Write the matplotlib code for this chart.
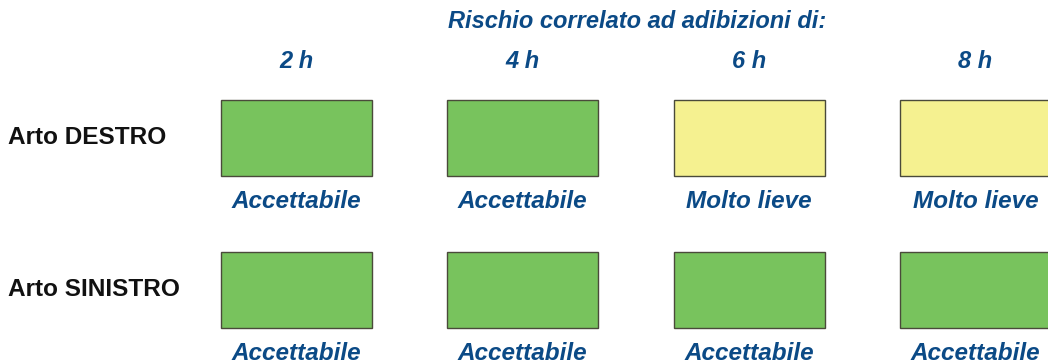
import matplotlib
matplotlib.use('Agg')
import matplotlib.pyplot as plt
from matplotlib.patches import Rectangle

# Dati
hours = ['2 h', '4 h', '6 h', '8 h']
rows = ['Arto DESTRO', 'Arto SINISTRO']
risk = [
    ['Accettabile', 'Accettabile', 'Molto lieve', 'Molto lieve'],
    ['Accettabile', 'Accettabile', 'Accettabile', 'Accettabile'],
]
title = 'Rischio correlato ad adibizioni di:'

colors = {'Accettabile': '#78c35d', 'Molto lieve': '#f5f190'}
blue = '#0b4a86'

fig = plt.figure(figsize=(10.48, 3.63), dpi=100)
ax = fig.add_axes([0, 0, 1, 1])
ax.set_xlim(0, 1048)
ax.set_ylim(363, 0)
ax.axis('off')

col_x0, col_step, box_w = 221, 226.3, 151
row_y0, row_step, box_h = 100, 152, 76

font = 'Liberation Sans'

ax.text(637, 22, title, ha='center', va='center', color=blue, fontsize=17,
        fontweight='bold', style='italic', family=font)

for j, h in enumerate(hours):
    cx = col_x0 + j * col_step + box_w / 2
    ax.text(cx, 62, h, ha='center', va='center', color=blue, fontsize=17,
            fontweight='bold', style='italic', family=font)

for i, r in enumerate(rows):
    y = row_y0 + i * row_step
    ax.text(8, y + box_h / 2 - 1, r, ha='left', va='center', color='#111111',
            fontsize=17.6, fontweight='bold', family=font)
    for j, level in enumerate(risk[i]):
        x = col_x0 + j * col_step
        ax.add_patch(Rectangle((x, y), box_w, box_h, facecolor=colors[level],
                               edgecolor='#4a4a3a', linewidth=1.0))
        ax.text(x + box_w / 2, y + box_h + 25, level, ha='center', va='center',
                color=blue, fontsize=17.5, fontweight='bold', style='italic',
                family=font)

fig.savefig('out.png', dpi=100)
